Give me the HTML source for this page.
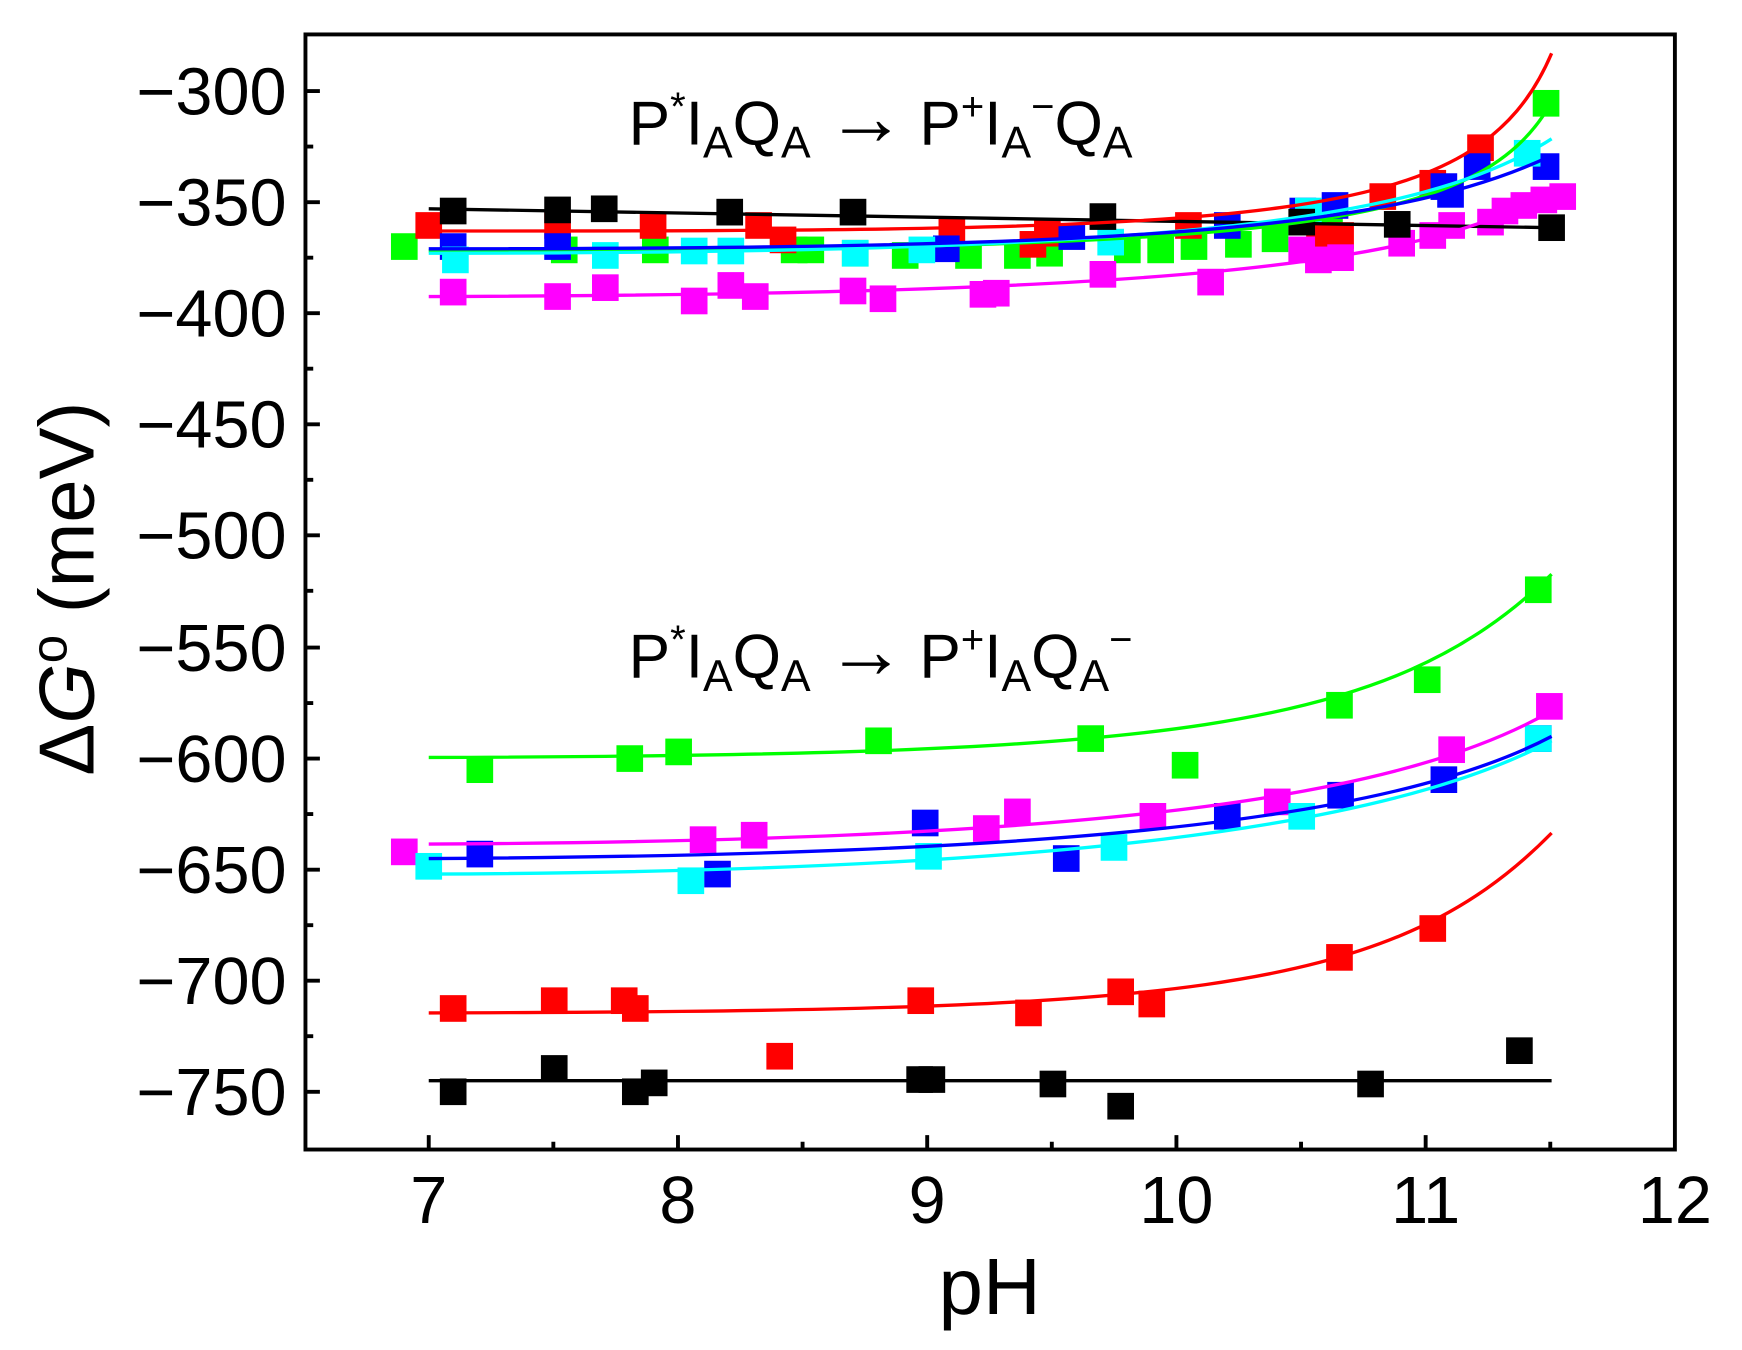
<!DOCTYPE html>
<html><head><meta charset="utf-8"><style>html,body{margin:0;padding:0;background:#fff}svg{display:block}</style></head>
<body>
<svg width="1742" height="1350" viewBox="0 0 1568.4 1215.5" xmlns="http://www.w3.org/2000/svg" font-family="Liberation Sans, Arial, sans-serif">
<rect width="1568.4" height="1215.5" fill="#fff"/>
<g stroke="#000" stroke-width="3.5" fill="none">
<rect x="275" y="31" width="1233" height="1004"/>
<path d="M275,82h13M275,182h13M275,282h13M275,382h13M275,482h13M275,583h13M275,683h13M275,783h13M275,883h13M275,983h13"/>
<path d="M275,132h7M275,232h7M275,332h7M275,432h7M275,532h7M275,633h7M275,733h7M275,833h7M275,933h7"/>
<path d="M386,1035v-13M610.4,1035v-13M834.8,1035v-13M1059.2,1035v-13M1283.6,1035v-13"/>
<path d="M498.2,1035v-7M722.6,1035v-7M947,1035v-7M1171.4,1035v-7M1395.8,1035v-7"/>
</g>
<g font-size="60" text-anchor="end" fill="#000">
<text x="258" y="103">−300</text><text x="258" y="203">−350</text><text x="258" y="303">−400</text>
<text x="258" y="403">−450</text><text x="258" y="503">−500</text><text x="258" y="604">−550</text>
<text x="258" y="704">−600</text><text x="258" y="804">−650</text><text x="258" y="904">−700</text>
<text x="258" y="1004">−750</text>
</g>
<g font-size="60" text-anchor="middle" fill="#000">
<text x="386" y="1101">7</text><text x="610.4" y="1101">8</text><text x="834.8" y="1101">9</text>
<text x="1059.2" y="1101">10</text><text x="1283.6" y="1101">11</text><text x="1508" y="1101">12</text>
</g>
<text x="891" y="1183" font-size="72" text-anchor="middle">pH</text>
<text transform="translate(84,530) rotate(-90)" font-size="70" text-anchor="middle">Δ<tspan font-style="italic">G</tspan><tspan dy="-24" font-size="46">o</tspan><tspan dy="24"> (meV)</tspan></text>

<g font-size="56" fill="#000">
<text x="566" y="130">P<tspan dy="-22" font-size="36">*</tspan><tspan dy="22">I</tspan><tspan dy="12" font-size="40">A</tspan><tspan dy="-12">Q</tspan><tspan dy="12" font-size="40">A</tspan><tspan dy="-12" dx="14" font-size="72">→</tspan><tspan dx="12">P</tspan><tspan dy="-22" font-size="36">+</tspan><tspan dy="22">I</tspan><tspan dy="12" font-size="40">A</tspan><tspan dy="-34" font-size="36">−</tspan><tspan dy="22">Q</tspan><tspan dy="12" font-size="40">A</tspan></text>
<text x="566" y="610">P<tspan dy="-22" font-size="36">*</tspan><tspan dy="22">I</tspan><tspan dy="12" font-size="40">A</tspan><tspan dy="-12">Q</tspan><tspan dy="12" font-size="40">A</tspan><tspan dy="-12" dx="14" font-size="72">→</tspan><tspan dx="12">P</tspan><tspan dy="-22" font-size="36">+</tspan><tspan dy="22">I</tspan><tspan dy="12" font-size="40">A</tspan><tspan dy="-12">Q</tspan><tspan dy="12" font-size="40">A</tspan><tspan dy="-34" font-size="36">−</tspan></text>
</g>

<defs><rect id="m" x="-12" y="-12" width="24" height="24"/></defs>

<g fill="#00ff00">
<use href="#m" x="364" y="222"/><use href="#m" x="508" y="225"/><use href="#m" x="590" y="225"/><use href="#m" x="715" y="225"/><use href="#m" x="730" y="225"/><use href="#m" x="770" y="228"/><use href="#m" x="815" y="230"/><use href="#m" x="872" y="230"/><use href="#m" x="916" y="230"/><use href="#m" x="945" y="228"/><use href="#m" x="1015" y="225"/><use href="#m" x="1045" y="225"/><use href="#m" x="1075" y="222"/><use href="#m" x="1115" y="220"/><use href="#m" x="1148" y="215"/><use href="#m" x="1197" y="206"/><use href="#m" x="1392" y="93"/>
</g>
<g fill="#ff0000">
<use href="#m" x="386" y="203"/><use href="#m" x="502" y="203"/><use href="#m" x="588" y="203"/><use href="#m" x="683" y="203"/><use href="#m" x="705" y="216"/><use href="#m" x="857" y="208"/><use href="#m" x="930" y="220"/><use href="#m" x="943" y="210"/><use href="#m" x="1070" y="203"/><use href="#m" x="1188" y="213"/><use href="#m" x="1207" y="212"/><use href="#m" x="1245" y="177"/><use href="#m" x="1290" y="165"/><use href="#m" x="1333" y="133"/>
</g>
<g fill="#0000ff">
<use href="#m" x="408" y="222"/><use href="#m" x="502" y="222"/><use href="#m" x="852" y="224"/><use href="#m" x="965" y="213"/><use href="#m" x="1105" y="203"/><use href="#m" x="1173" y="190"/><use href="#m" x="1202" y="185"/><use href="#m" x="1300" y="168"/><use href="#m" x="1306" y="175"/><use href="#m" x="1330" y="150"/><use href="#m" x="1392" y="150"/>
</g>
<g fill="#00ffff">
<use href="#m" x="410" y="234"/><use href="#m" x="545" y="230"/><use href="#m" x="625" y="226"/><use href="#m" x="658" y="226"/><use href="#m" x="770" y="228"/><use href="#m" x="830" y="225"/><use href="#m" x="1000" y="218"/><use href="#m" x="1178" y="190"/><use href="#m" x="1375" y="138"/>
</g>
<g fill="#ff00ff">
<use href="#m" x="408" y="263"/><use href="#m" x="502" y="267"/><use href="#m" x="545" y="259"/><use href="#m" x="625" y="271"/><use href="#m" x="658" y="257"/><use href="#m" x="680" y="267"/><use href="#m" x="768" y="262"/><use href="#m" x="795" y="269"/><use href="#m" x="885" y="265"/><use href="#m" x="897" y="264"/><use href="#m" x="993" y="247"/><use href="#m" x="1090" y="254"/><use href="#m" x="1172" y="225"/><use href="#m" x="1187" y="234"/><use href="#m" x="1207" y="232"/><use href="#m" x="1262" y="219"/><use href="#m" x="1290" y="212"/><use href="#m" x="1307" y="203"/><use href="#m" x="1342" y="200"/><use href="#m" x="1355" y="190"/><use href="#m" x="1372" y="185"/><use href="#m" x="1390" y="180"/><use href="#m" x="1407" y="177"/>
</g>
<g fill="#000">
<use href="#m" x="408" y="190"/><use href="#m" x="502" y="189"/><use href="#m" x="544" y="188"/><use href="#m" x="657" y="191"/><use href="#m" x="768" y="191"/><use href="#m" x="993" y="195"/><use href="#m" x="1172" y="200"/><use href="#m" x="1258" y="202"/><use href="#m" x="1397" y="205"/>
</g>
<g fill="none" stroke-width="3">
<path stroke="#000" d="M386,188 L1397,205"/>
<path stroke="#ff0000" d="M386,208 C1150,208 1330,205 1397,48"/>
<path stroke="#00ff00" d="M386,226 C1150,224 1330,210 1397,92"/>
<path stroke="#00ffff" d="M386,228 C1050,228 1280,200 1397,125"/>
<path stroke="#0000ff" d="M386,224 C1000,224 1250,210 1397,140"/>
<path stroke="#ff00ff" d="M386,267 C1050,265 1280,240 1397,172"/>
</g>

<g fill="#00ff00">
<use href="#m" x="432" y="693"/><use href="#m" x="567" y="683"/><use href="#m" x="611" y="677"/><use href="#m" x="791" y="667"/><use href="#m" x="982" y="665"/><use href="#m" x="1067" y="689"/><use href="#m" x="1206" y="635"/><use href="#m" x="1285" y="612"/><use href="#m" x="1385" y="531"/>
</g>
<g fill="#ff00ff">
<use href="#m" x="364" y="767"/><use href="#m" x="633" y="756"/><use href="#m" x="679" y="752"/><use href="#m" x="888" y="746"/><use href="#m" x="916" y="731"/><use href="#m" x="1038" y="735"/><use href="#m" x="1150" y="722"/><use href="#m" x="1307" y="675"/><use href="#m" x="1395" y="636"/>
</g>
<g fill="#0000ff">
<use href="#m" x="432" y="769"/><use href="#m" x="646" y="787"/><use href="#m" x="833" y="741"/><use href="#m" x="960" y="773"/><use href="#m" x="1105" y="735"/><use href="#m" x="1207" y="716"/><use href="#m" x="1300" y="702"/><use href="#m" x="1385" y="665"/>
</g>
<g fill="#00ffff">
<use href="#m" x="386" y="780"/><use href="#m" x="622" y="793"/><use href="#m" x="836" y="771"/><use href="#m" x="1003" y="763"/><use href="#m" x="1172" y="735"/><use href="#m" x="1385" y="665"/>
</g>
<g fill="#ff0000">
<use href="#m" x="408" y="908"/><use href="#m" x="499" y="901"/><use href="#m" x="562" y="901"/><use href="#m" x="572" y="908"/><use href="#m" x="829" y="901"/><use href="#m" x="926" y="912"/><use href="#m" x="1009" y="893"/><use href="#m" x="1037" y="904"/><use href="#m" x="702" y="951"/><use href="#m" x="1206" y="862"/><use href="#m" x="1290" y="836"/>
</g>
<g fill="#000">
<use href="#m" x="408" y="983"/><use href="#m" x="499" y="962"/><use href="#m" x="572" y="983"/><use href="#m" x="589" y="975"/><use href="#m" x="828" y="972"/><use href="#m" x="839" y="972"/><use href="#m" x="948" y="976"/><use href="#m" x="1009" y="996"/><use href="#m" x="1234" y="976"/><use href="#m" x="1368" y="946"/>
</g>
<g fill="none" stroke-width="3">
<path stroke="#000" d="M386,973 L1397,973"/>
<path stroke="#ff0000" d="M386,912 C1050,910 1250,900 1397,750"/>
<path stroke="#00ff00" d="M386,682 C1050,680 1250,660 1397,517"/>
<path stroke="#00ffff" d="M386,787 C950,785 1250,745 1397,667"/>
<path stroke="#0000ff" d="M386,773 C950,770 1250,740 1397,663"/>
<path stroke="#ff00ff" d="M386,760 C950,757 1250,725 1397,640"/>
</g>
</svg>
</body></html>
